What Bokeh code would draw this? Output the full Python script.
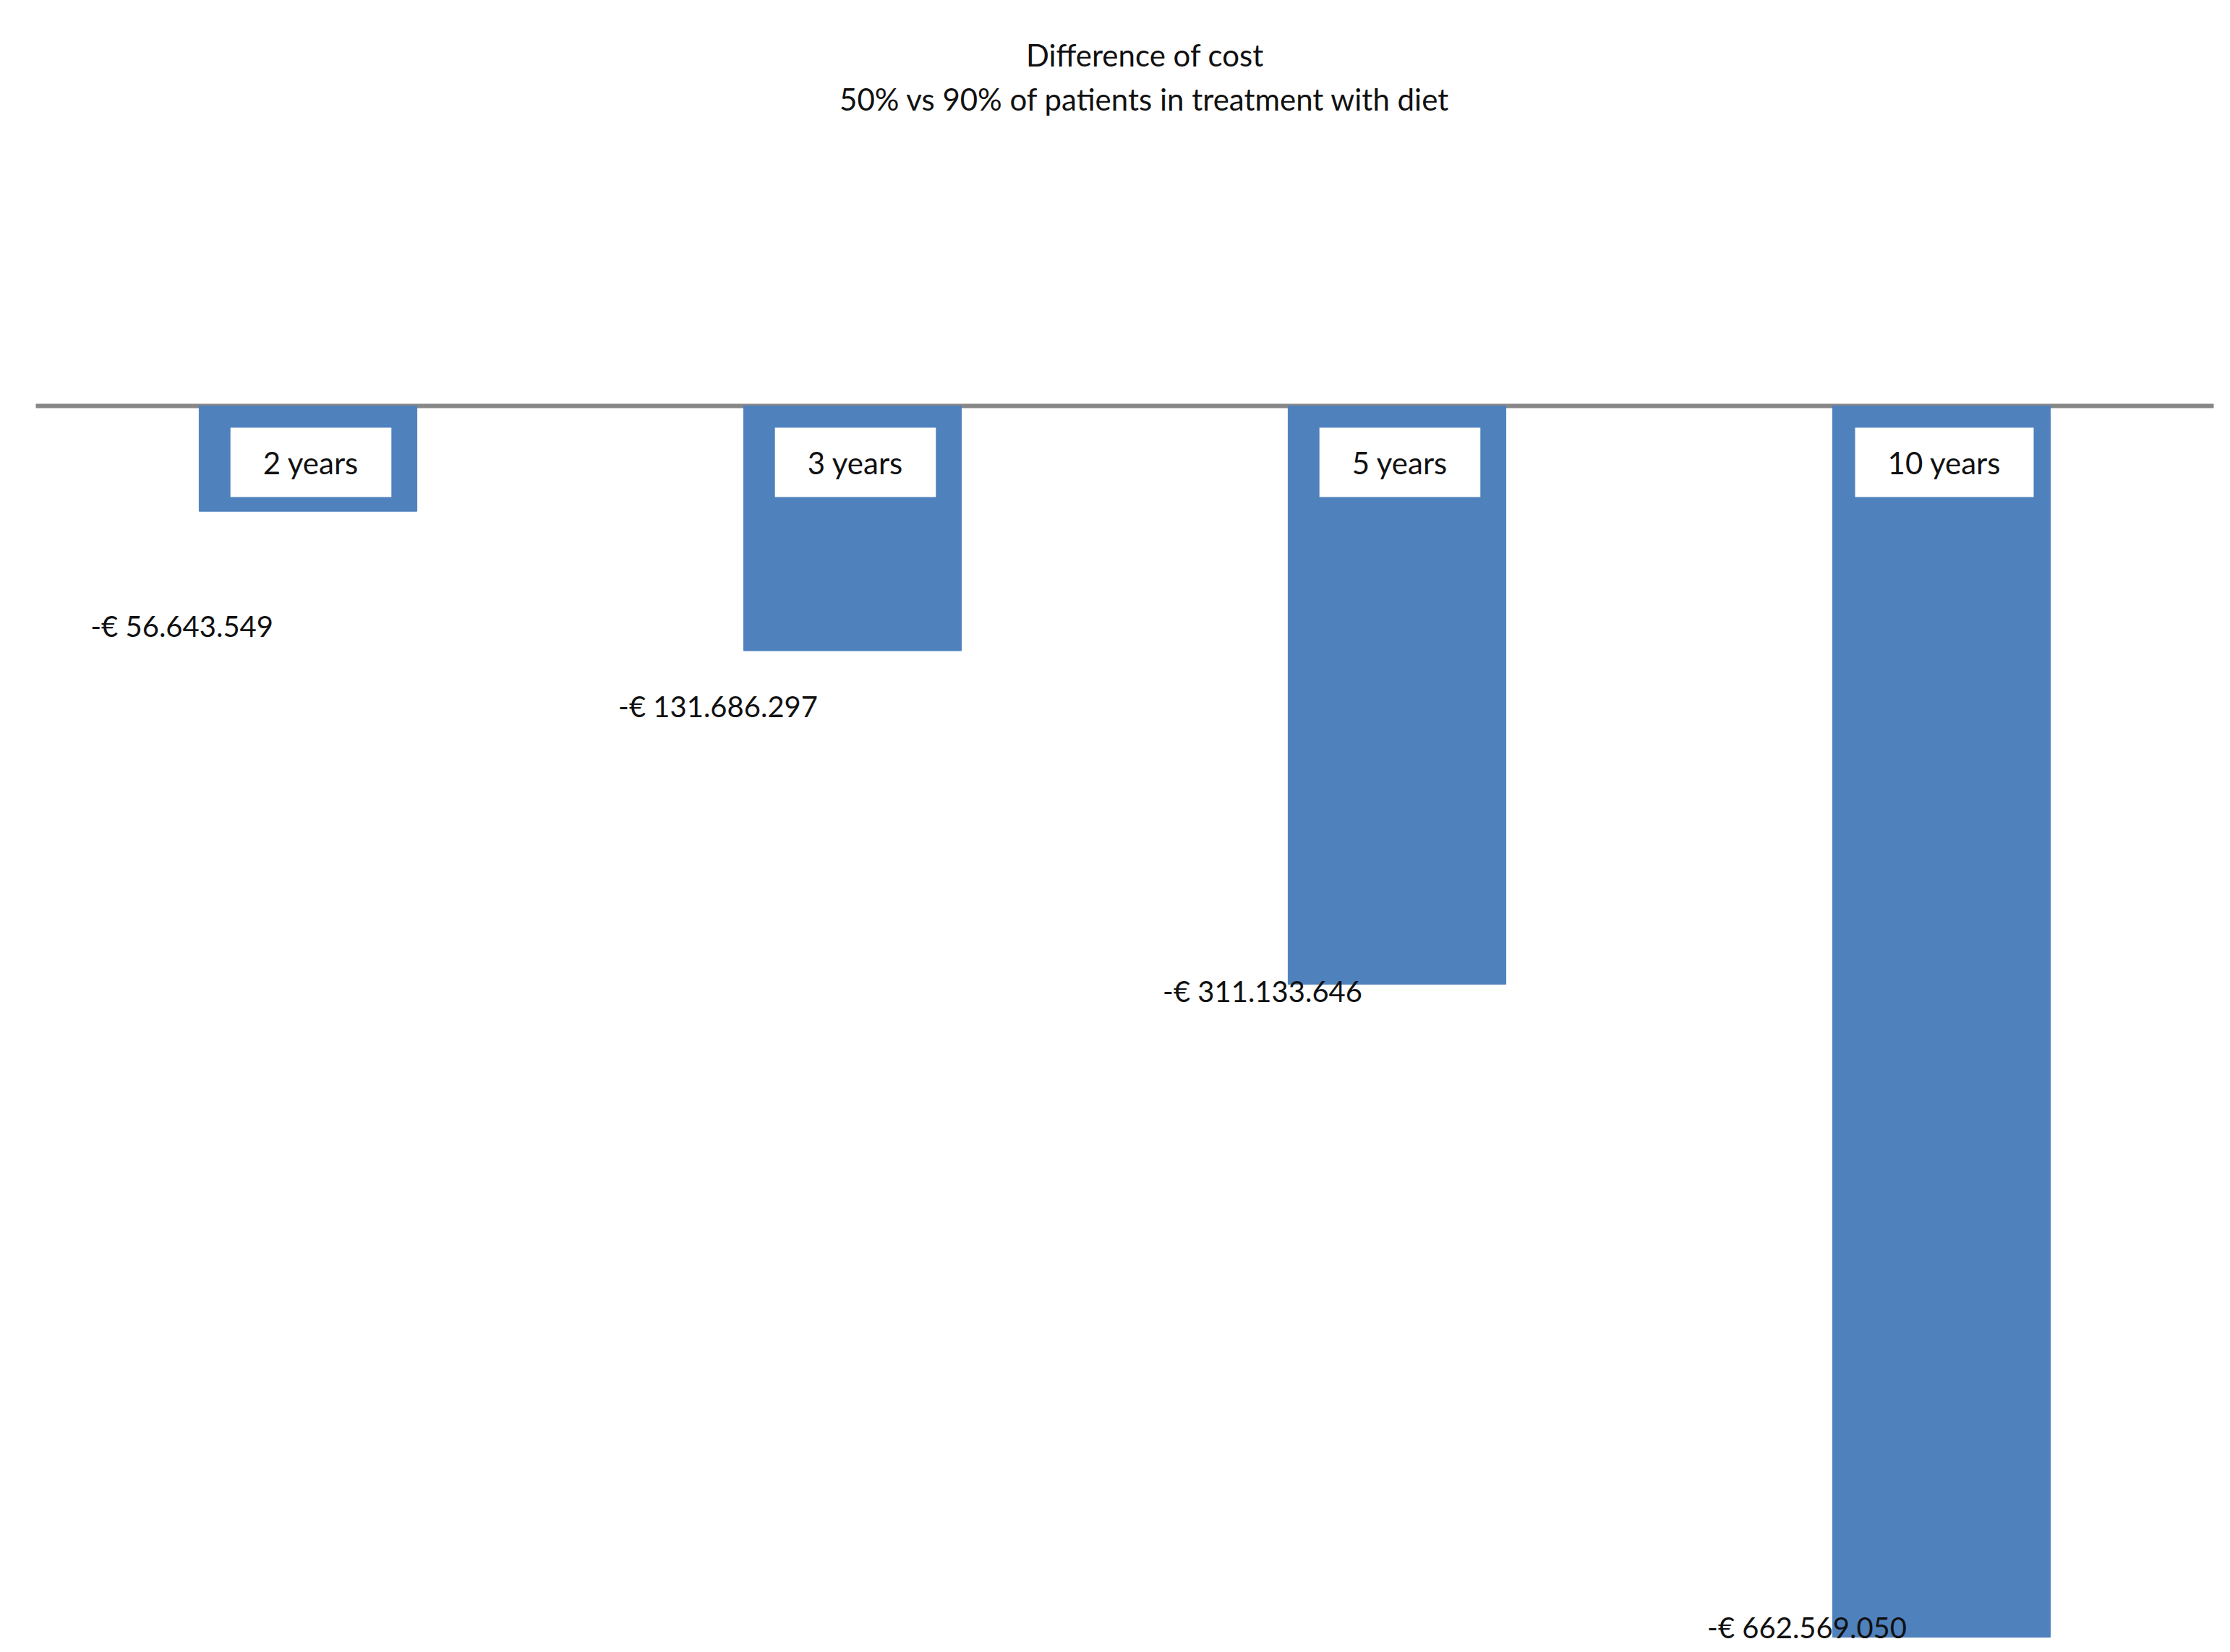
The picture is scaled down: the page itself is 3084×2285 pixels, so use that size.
from bokeh.plotting import figure
from bokeh.models import Range1d, Label, ColumnDataSource
from bokeh.core.properties import value
from bokeh.embed import file_html
from bokeh.resources import INLINE

# ---- data ----
categories = ["2 years", "3 years", "5 years", "10 years"]
cost_diff = [-56643549, -131686297, -311133646, -662569050]
title_lines = ["Difference of cost", "50% vs 90% of patients in treatment with diet"]

# ---- style ----
FONT = "Lato"
BAR_COLOR = "#4F81BD"
W, H = 3084, 2285
label_dy = [159, 77, 10, -14]  # vertical screen offsets of value labels below bar ends

xs = [i + 0.5 for i in range(len(categories))]
labels = ["-€ " + f"{abs(v):,}".replace(",", ".") for v in cost_diff]
src = ColumnDataSource(dict(x=xs, v=cost_diff, lab=labels, dy=label_dy))

p = figure(width=W, height=H, output_backend="svg", toolbar_location=None,
           x_range=Range1d(-49 / 753, (W - 49) / 753),
           y_range=Range1d(-670.7e6, 218.3e6),
           min_border=0, min_border_left=0, min_border_right=0,
           min_border_top=0, min_border_bottom=0)
p.axis.visible = False
p.grid.visible = False
p.outline_line_color = None
p.background_fill_color = "white"
p.border_fill_color = "white"

# zero axis line
p.segment(x0=[0], y0=[0], x1=[len(categories)], y1=[0], line_color="#878787", line_width=6)

# bars
p.vbar(x="x", top=0, bottom="v", width=0.4, source=src,
       fill_color=BAR_COLOR, line_color=BAR_COLOR, line_width=1)

# value labels
p.text(x="x", y="v", text="lab", source=src, text_align="right", text_baseline="middle",
       x_offset=-48, y_offset="dy", text_font=value(FONT), text_font_size="40px",
       text_color="#111111")

# category labels in white boxes
for x, c in zip(xs, categories):
    p.add_layout(Label(x=x, y=0, text=c, x_offset=4, y_offset=-78,
                       text_align="center", text_baseline="middle",
                       text_font=FONT, text_font_size="42px", text_color="#111111",
                       background_fill_color="white", border_line_color=None,
                       padding=dict(left=45, right=45, top=23, bottom=23)))

# title
for k, t in enumerate(title_lines):
    p.add_layout(Label(x=1583, y=2210 - 61 * k, x_units="screen", y_units="screen",
                       text=t, text_align="center", text_baseline="middle",
                       text_font=FONT, text_font_size="42px", text_color="#111111"))

open("out.html", "w").write(file_html(p, INLINE))
